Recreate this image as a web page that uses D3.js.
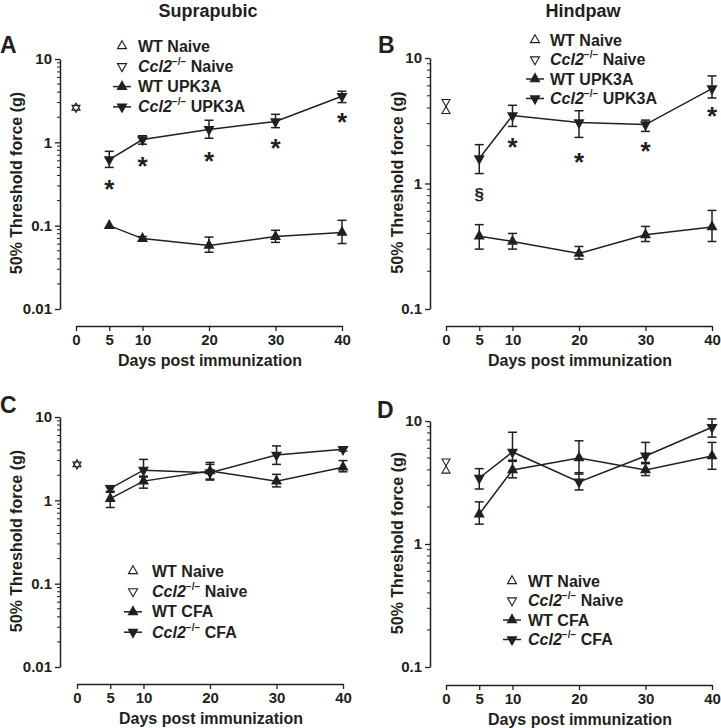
<!DOCTYPE html>
<html><head><meta charset="utf-8">
<script src="https://cdn.jsdelivr.net/npm/d3@7"></script>
<style>
body{margin:0;background:#fff}
svg{display:block}
text{font-family:"Liberation Sans",Arial,sans-serif;font-weight:bold;fill:#231f20}
</style>
</head><body>
<svg id="c" width="721" height="728"></svg>
<script>
// ---------------- DATA ----------------
const days = [5, 10, 20, 30, 40];
const xTicks = [0, 5, 10, 20, 30, 40];
const naiveDay = 0;
const panelLetters = ["A", "B", "C", "D"];
const columnTitles = ["Suprapubic", "Hindpaw"];
const xTitle = "Days post immunization";
const yTitle = "50% Threshold force (g)";
const yTicksWide = [0.01, 0.1, 1, 10];
const yTickLabelsWide = ["0.01", "0.1", "1", "10"];
const yTicksNarrow = [0.1, 1, 10];
const yTickLabelsNarrow = ["0.1", "1", "10"];

const naiveWT = [2.6, 3.77, 2.7, 3.94];
const naiveKO = [2.6, 4.48, 2.7, 4.7];

// Panel A (Suprapubic, UPK3A)
const A_koMean = [0.62, 1.08, 1.43, 1.78, 3.57];
const A_koHi   = [0.78, 1.20, 1.84, 2.17, 4.10];
const A_koLo   = [0.50, 0.95, 1.12, 1.50, 3.00];
const A_wtMean = [0.100, 0.070, 0.058, 0.074, 0.083];
const A_wtHi   = [0.100, 0.074, 0.073, 0.088, 0.116];
const A_wtLo   = [0.100, 0.066, 0.048, 0.063, 0.061];
const A_marks  = ["*", "*", "*", "*", "*"];
const A_markAt = [0.32, 0.59, 0.68, 0.98, 2.0];

// Panel B (Hindpaw, UPK3A)
const B_koMean = [1.58, 3.48, 3.06, 2.95, 5.7];
const B_koHi   = [2.04, 4.20, 3.80, 3.20, 7.2];
const B_koLo   = [1.20, 2.85, 2.33, 2.60, 4.8];
const B_wtMean = [0.38, 0.345, 0.277, 0.39, 0.45];
const B_wtHi   = [0.47, 0.40, 0.315, 0.455, 0.61];
const B_wtLo   = [0.30, 0.30, 0.25, 0.345, 0.345];
const B_marks  = ["§", "*", "*", "*", "*"];
const B_markAt = [0.83, 2.16, 1.64, 2.0, 3.75];

// Panel C (Suprapubic, CFA)
const C_koMean = [1.39, 2.30, 2.15, 3.50, 4.10];
const C_koHi   = [1.50, 3.10, 2.70, 4.50, 4.30];
const C_koLo   = [1.25, 1.90, 1.75, 2.70, 3.90];
const C_wtMean = [1.05, 1.70, 2.25, 1.70, 2.50];
const C_wtHi   = [1.28, 1.95, 2.85, 2.05, 3.00];
const C_wtLo   = [0.82, 1.40, 1.80, 1.45, 2.20];

// Panel D (Hindpaw, CFA)
const D_koMean = [3.44, 5.6, 3.20, 5.2, 8.9];
const D_koHi   = [4.10, 8.1, 3.80, 6.7, 10.4];
const D_koLo   = [2.80, 4.8, 2.75, 4.6, 7.4];
const D_wtMean = [1.75, 4.0, 5.0, 4.0, 5.2];
const D_wtHi   = [2.20, 4.7, 6.9, 4.5, 6.7];
const D_wtLo   = [1.45, 3.45, 3.7, 3.6, 4.05];

const legendUPK = ["WT Naive", "Naive", "WT UPK3A", "UPK3A"];
const legendCFA = ["WT Naive", "Naive", "WT CFA", "CFA"];

// ---------------- DRAW ----------------
const INK = "#231f20";
const svg = d3.select("#c");

function triPath(w, h, up) {
  const s = up ? 1 : -1;
  return `M0,${-s * 2 * h / 3}L${w / 2},${s * h / 3}L${-w / 2},${s * h / 3}Z`;
}

const panels = [
  { letter: 0, col: 0, axisX: 60, x0: 76, x1: 342, yDom: [0.01, 10], yB: 309, yT: 59, xAxisY: 326,
    yTicks: yTicksWide, yLabels: yTickLabelsWide,
    ko: [A_koMean, A_koHi, A_koLo], wt: [A_wtMean, A_wtHi, A_wtLo], marks: A_marks, markAt: A_markAt,
    legend: legendUPK, legX: 122, legTx: 138, legY: 46, legDy: 20.3, letterX: 0, letterY: 53, yTitleX: 22 },
  { letter: 1, col: 1, axisX: 430, x0: 446, x1: 712, yDom: [0.1, 10], yB: 309, yT: 58, xAxisY: 326,
    yTicks: yTicksNarrow, yLabels: yTickLabelsNarrow,
    ko: [B_koMean, B_koHi, B_koLo], wt: [B_wtMean, B_wtHi, B_wtLo], marks: B_marks, markAt: B_markAt,
    legend: legendUPK, legX: 535, legTx: 550, legY: 40, legDy: 19.5, letterX: 378, letterY: 53, yTitleX: 403 },
  { letter: 2, col: 0, axisX: 60, x0: 77, x1: 343, yDom: [0.01, 10], yB: 667, yT: 417, xAxisY: 684,
    yTicks: yTicksWide, yLabels: yTickLabelsWide,
    ko: [C_koMean, C_koHi, C_koLo], wt: [C_wtMean, C_wtHi, C_wtLo], marks: null, markAt: null,
    legend: legendCFA, legX: 133, legTx: 152, legY: 571, legDy: 20.4, letterX: 0, letterY: 413, yTitleX: 22 },
  { letter: 3, col: 1, axisX: 430, x0: 446, x1: 712, yDom: [0.1, 10], yB: 667, yT: 421, xAxisY: 685,
    yTicks: yTicksNarrow, yLabels: yTickLabelsNarrow,
    ko: [D_koMean, D_koHi, D_koLo], wt: [D_wtMean, D_wtHi, D_wtLo], marks: null, markAt: null,
    legend: legendCFA, legX: 512, legTx: 528, legY: 581, legDy: 19.5, letterX: 377, letterY: 418, yTitleX: 403 }
];

// column titles
svg.append("text").attr("x", 208).attr("y", 17).attr("text-anchor", "middle")
  .attr("font-size", 18).text(columnTitles[0]);
svg.append("text").attr("x", 583).attr("y", 17).attr("text-anchor", "middle")
  .attr("font-size", 18).text(columnTitles[1]);

panels.forEach((p, pi) => {
  const g = svg.append("g");
  const x = d3.scaleLinear().domain([0, 40]).range([p.x0, p.x1]);
  const y = d3.scaleLog().domain(p.yDom).range([p.yB, p.yT]);

  // panel letter
  g.append("text").attr("x", p.letterX).attr("y", p.letterY).attr("font-size", 23)
    .text(panelLetters[p.letter]);

  // y axis
  const ya = g.append("g").attr("transform", `translate(${p.axisX},0)`)
    .call(d3.axisLeft(y).tickValues(p.yTicks).tickFormat((d, i) => p.yLabels[i])
      .tickSize(5).tickSizeOuter(0).tickPadding(3));
  ya.select(".domain").attr("stroke", INK).attr("stroke-width", 1.5);
  ya.selectAll(".tick line").attr("stroke", INK).attr("stroke-width", 1.3);
  ya.selectAll(".tick text").attr("font-size", 15).attr("fill", INK);
  ya.attr("font-family", null);
  // minor ticks
  const minors = [];
  const lo = Math.log10(p.yDom[0]), hi = Math.log10(p.yDom[1]);
  for (let e = lo; e < hi; e++) for (let k = 2; k <= 9; k++) minors.push(k * Math.pow(10, e));
  g.selectAll(".minor").data(minors).join("line")
    .attr("x1", p.axisX - 3).attr("x2", p.axisX)
    .attr("y1", d => y(d)).attr("y2", d => y(d))
    .attr("stroke", INK).attr("stroke-width", 1);

  // x axis
  const xa = g.append("g").attr("transform", `translate(0,${p.xAxisY})`)
    .call(d3.axisBottom(x).tickValues(xTicks).tickSize(5).tickSizeOuter(0).tickPadding(3));
  xa.select(".domain").attr("stroke", INK).attr("stroke-width", 1.5);
  xa.selectAll(".tick line").attr("stroke", INK).attr("stroke-width", 1.3);
  xa.selectAll(".tick text").attr("font-size", 15).attr("fill", INK);
  xa.attr("font-family", null);

  // axis titles
  g.append("text").attr("x", (p.x0 + p.x1) / 2 + 1).attr("y", p.xAxisY + 40)
    .attr("text-anchor", "middle").attr("font-size", 16).text(xTitle);
  const yc = (p.yB + p.yT) / 2 - 1;
  g.append("text").attr("transform", `translate(${p.yTitleX},${yc}) rotate(-90)`)
    .attr("text-anchor", "middle").attr("font-size", 16).text(yTitle);

  // series
  const series = [
    { vals: p.wt, up: true },
    { vals: p.ko, up: false }
  ];
  const line = d3.line().x((d, i) => x(days[i])).y(d => y(d));
  series.forEach(s => {
    const [mean, hiV, loV] = s.vals;
    g.append("path").attr("d", line(mean)).attr("fill", "none")
      .attr("stroke", INK).attr("stroke-width", 1.5);
    days.forEach((d, i) => {
      const cx = x(d);
      const ytop = y(hiV[i]), ybot = y(loV[i]);
      if (Math.abs(ytop - ybot) > 0.5) {
        g.append("line").attr("x1", cx).attr("x2", cx).attr("y1", ytop).attr("y2", ybot)
          .attr("stroke", INK).attr("stroke-width", 1.5);
        [ytop, ybot].forEach(yy => g.append("line").attr("x1", cx - 4.5).attr("x2", cx + 4.5)
          .attr("y1", yy).attr("y2", yy).attr("stroke", INK).attr("stroke-width", 1.5));
      }
    });
    g.selectAll(null).data(mean).join("path")
      .attr("d", triPath(11, 10, s.up))
      .attr("transform", (d, i) => `translate(${x(days[i])},${y(d)})`)
      .attr("fill", INK);
  });

  // naive open triangles
  g.append("path").attr("d", triPath(8, 7, true))
    .attr("transform", `translate(${x(naiveDay)},${y(naiveWT[pi])})`)
    .attr("fill", "#fff").attr("stroke", INK).attr("stroke-width", 1.1);
  g.append("path").attr("d", triPath(8, 7, false))
    .attr("transform", `translate(${x(naiveDay)},${y(naiveKO[pi])})`)
    .attr("fill", "none").attr("stroke", INK).attr("stroke-width", 1.1);

  // significance marks
  if (p.marks) {
    p.marks.forEach((m, i) => {
      const isStar = m === "*";
      g.append("text").attr("x", x(days[i])).attr("y", y(p.markAt[i]) + (isStar ? 14 : 6))
        .attr("text-anchor", "middle").attr("font-size", isStar ? 26 : 17).text(m);
    });
  }

  // legend
  p.legend.forEach((lab, r) => {
    const ly = p.legY + r * p.legDy;
    const sx = p.legX;
    if (r === 0 || r === 1) {
      g.append("path").attr("d", triPath(9, 8, r === 0))
        .attr("transform", `translate(${sx},${ly})`)
        .attr("fill", "none").attr("stroke", INK).attr("stroke-width", 1.1);
    } else {
      g.append("line").attr("x1", sx - 9).attr("x2", sx + 9).attr("y1", ly).attr("y2", ly)
        .attr("stroke", INK).attr("stroke-width", 1.5);
      g.append("path").attr("d", triPath(11, 10, r === 2))
        .attr("transform", `translate(${sx},${ly})`).attr("fill", INK);
    }
    const t = g.append("text").attr("x", p.legTx).attr("y", ly + 5.5).attr("font-size", 16);
    if (r === 1 || r === 3) {
      t.append("tspan").attr("font-style", "italic").text("Ccl2");
      t.append("tspan").attr("font-size", 10).attr("dy", -7).text("\u2212/\u2212");
      t.append("tspan").attr("dy", 7).text(" " + lab);
    } else {
      t.text(lab);
    }
  });
});
</script>
</body></html>
